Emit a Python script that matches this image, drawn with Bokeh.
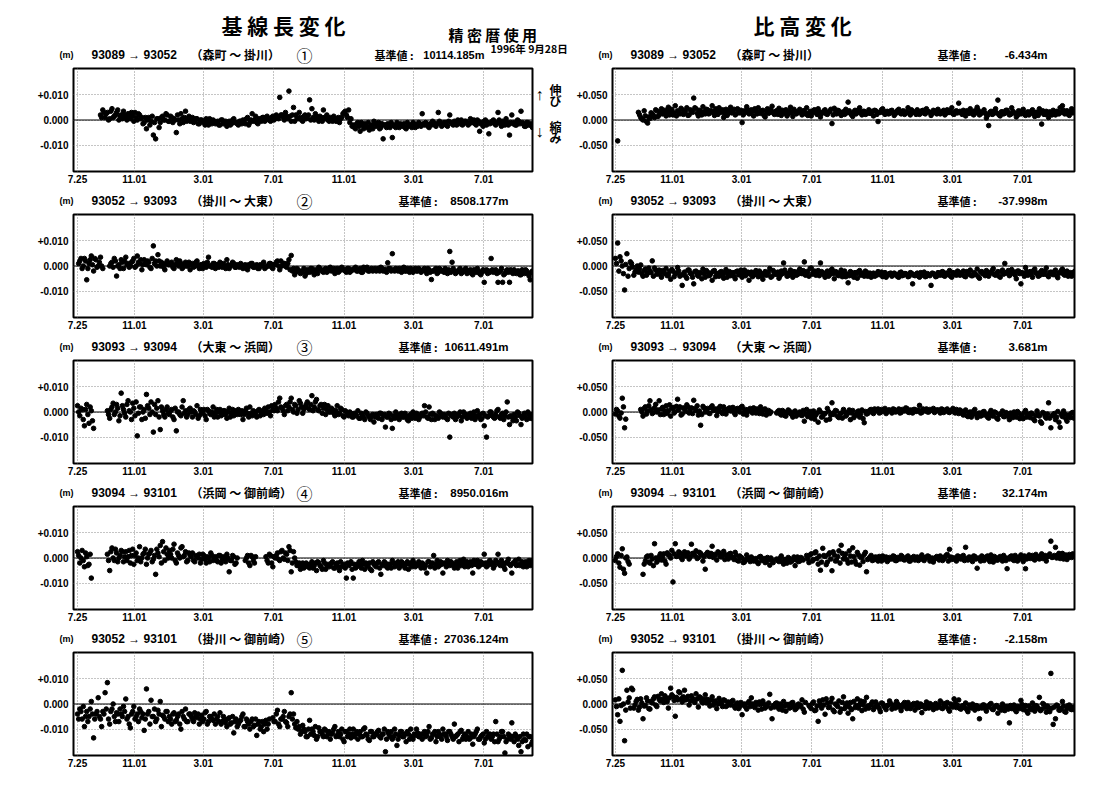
from bokeh.plotting import figure
from bokeh.layouts import column, row
from bokeh.models import Range1d, FixedTicker, Span
from bokeh.core.properties import value
from bokeh.embed import file_html
from bokeh.resources import INLINE

N = None

# observation days (days since 1994-07-25): two interleaved 4-day samplings
DAYS = [0, 4, 8, 12, 16, 20, 24, 28, 32, 36, 40, 44, 48, 52, 56, 60, 64, 68, 72, 76,
        80, 84, 88, 92, 96, 100, 104, 108, 112, 116, 120, 124, 128, 132, 136, 140, 144, 148, 152, 156,
        160, 164, 168, 172, 176, 180, 184, 188, 192, 196, 200, 204, 208, 212, 216, 220, 224, 228, 232, 236,
        240, 244, 248, 252, 256, 260, 264, 268, 272, 276, 280, 284, 288, 292, 296, 300, 304, 308, 312, 316,
        320, 324, 328, 332, 336, 340, 344, 348, 352, 356, 360, 364, 368, 372, 376, 380, 384, 388, 392, 396,
        400, 404, 408, 412, 416, 420, 424, 428, 432, 436, 440, 444, 448, 452, 456, 460, 464, 468, 472, 476,
        480, 484, 488, 492, 496, 500, 504, 508, 512, 516, 520, 524, 528, 532, 536, 540, 544, 548, 552, 556,
        560, 564, 568, 572, 576, 580, 584, 588, 592, 596, 600, 604, 608, 612, 616, 620, 624, 628, 632, 636,
        640, 644, 648, 652, 656, 660, 664, 668, 672, 676, 680, 684, 688, 692, 696, 700, 704, 708, 712, 716,
        720, 724, 728, 732, 736, 740, 744, 748, 752, 756, 760, 764, 768, 772, 776, 780, 784, 788, 792, 796]
DAYS_B = [2, 6, 10, 14, 18, 22, 26, 30, 34, 38, 42, 46, 50, 54, 58, 62, 66, 70, 74, 78,
          82, 86, 90, 94, 98, 102, 106, 110, 114, 118, 122, 126, 130, 134, 138, 142, 146, 150, 154, 158,
          162, 166, 170, 174, 178, 182, 186, 190, 194, 198, 202, 206, 210, 214, 218, 222, 226, 230, 234, 238,
          242, 246, 250, 254, 258, 262, 266, 270, 274, 278, 282, 286, 290, 294, 298, 302, 306, 310, 314, 318,
          322, 326, 330, 334, 338, 342, 346, 350, 354, 358, 362, 366, 370, 374, 378, 382, 386, 390, 394, 398,
          402, 406, 410, 414, 418, 422, 426, 430, 434, 438, 442, 446, 450, 454, 458, 462, 466, 470, 474, 478,
          482, 486, 490, 494, 498, 502, 506, 510, 514, 518, 522, 526, 530, 534, 538, 542, 546, 550, 554, 558,
          562, 566, 570, 574, 578, 582, 586, 590, 594, 598, 602, 606, 610, 614, 618, 622, 626, 630, 634, 638,
          642, 646, 650, 654, 658, 662, 666, 670, 674, 678, 682, 686, 690, 694, 698, 702, 706, 710, 714, 718,
          722, 726, 730, 734, 738, 742, 746, 750, 754, 758, 762, 766, 770, 774, 778, 782, 786, 790, 794, 798]

X_TICKS = [0, 99, 219, 341, 464, 585, 707]
X_LABELS = ["7.25", "11.01", "3.01", "7.01", "11.01", "3.01", "7.01"]

# baseline length change (mm)
LEN_1 = [N, N, N, N, N, N, N, N, N, N,
         2, 4, 1, 3, 0.5, 4.5, 1.5, 3, 0, 2,
         3.5, 1, 2.5, 0.5, 1.5, 3, 0, 2, 1, -1,
         -3.5, 1, -0.5, -6, -7.5, 0.5, -1, 1.5, 0, 2,
         -0.5, 1, 0.5, -5, 0, 2.5, -1, 3.5, 0.5, -0.5,
         1, -0.5, 0.5, -1.5, 0, -1, 0.5, -2, -1, 0,
         -1.5, -0.5, -2, 0, -1, -2.5, -0.5, -1.5, 0.5, -1,
         -2, -0.5, 0, -1.5, 1, -1, 2.5, 0, -1, 0.5,
         -0.5, 1, 0, 0.5, -0.5, 1.5, 0.5, 1, 9, 2,
         0, 1.5, 11.5, -0.5, 5, 2, 0.5, 1, -0.5, 2,
         1, 8, 4.5, 0, 1.5, -0.5, 1, 4, 0.5, 0,
         1, -0.5, 0.5, 0, -1, 1, 3, 2, 4, 0.5,
         -2, -3.5, -1, -4.5, -2, -1.5, -3, -4, -2, -0.5,
         -2.5, -1, -3, -7.5, -2, -1.5, -3, -7, -2.5, -1,
         -3, -2, -1.5, -3.5, -2.5, -2, -1, -3, -2.5, -1.5,
         2.5, -2, -1.5, -3, -2, -1, -2.5, 3, -1.5, -2,
         -1, -2.5, 2, -1.5, -0.5, -2, -1, 0, -1.5, -0.5,
         -2, 0.5, -1, -1.5, 0, -4.5, -1, -0.5, -2, -5.5,
         -1, 0, -2, 3, -1.5, -0.5, -2, -1, -6, 2,
         -1, -2, -0.5, 3.5, -1.5, -2.5, -1, -2, -3, -2]
LEN_1B = [N, N, N, N, N, N, N, N, N, N,
          1, 3, 2.5, 0, 3.5, 1, 2, 4, 1.5, 0.5,
          2, 0, 1.5, 3, -0.5, 1, 2.5, 0.5, -1.5, 1,
          0, -2, 1.5, -1, 0.5, -3, 1, 0, 2.5, -0.5,
          1.5, -1, 0, 2, -1.5, 0.5, 1, -0.5, 1.5, 0,
          -1, 0.5, -1.5, 0, -0.5, -2, -1, 0.5, -1.5, -0.5,
          -1, -2, 0, -1.5, -0.5, -1, -2, 0, -1, -1.5,
          -0.5, -1.5, -1, 0.5, -2, 0, -0.5, 1.5, -1.5, 0,
          1, -0.5, 1.5, 0, 1, 0, 2, 0.5, 2, 1,
          3, 0.5, 1.5, 2, -0.5, 1, 3, 0, 1.5, 0.5,
          2, 0, 1, 2.5, 0.5, 1.5, -0.5, 1, 2, -0.5,
          0.5, 1.5, -0.5, 1, 0.5, 2.5, 3.5, 1, -1, -2.5,
          -3, -1.5, -2.5, -1, -3.5, -2, -1, -2.5, -3.5, -1.5,
          -2, -3.5, -1.5, -2, -3, -2.5, -1, -2, -3, -2,
          -1.5, -2.5, -3, -1, -2, -3, -1.5, -2, -1, -2.5,
          -1.5, -1, -2.5, -1.5, -0.5, -2, -1.5, -0.5, -2.5, -1,
          -2, -0.5, -1, -2, -1.5, 0, -1.5, -2, -0.5, -1,
          -1.5, -1, 0, -2, -0.5, -1.5, -2.5, 0, -1, -1.5,
          -0.5, -1.5, -1, 0, -2.5, -1, 0.5, -2, -1, -1.5,
          -2, 0, -1.5, -1, -2.5, -1, -2, -1.5, -2.5, -3]

LEN_2 = [N, 2, -1, 3, -5.5, 1, 4, -2, 2.5, 0,
         3.5, -1, N, N, 0, 1.5, 3, -4, 0.5, 2.5,
         -1, 3.5, 1, 0, 2, -0.5, 4, 1, -1.5, 2.5,
         0.5, 1.5, -1, 8, 2, 4.5, 0, 1, -1.5, 2,
         0.5, 1.5, -1, 2.5, 0, 1, -0.5, 1.5, 0, -1.5,
         1, 0, 2, -1, 0.5, 1, -0.5, 3.5, 0, 1,
         -1, 0.5, 1.5, -0.5, 0, 2.5, -1, 0.5, 1, -0.5,
         0, 1, -1, 0.5, -1.5, 0, 1, -0.5, 0.5, -1,
         0, 1.5, -0.5, 0, 1, -1, 0.5, 2, -1.5, 0,
         1, -0.5, 2.5, 4.2, -1, -2.5, -1.5, -3, -2, -4,
         -1.5, -2.5, -1, -3.5, -2, -0.5, -1.5, -2.5, -1, -2,
         -0.5, -1.5, -3, -1, -2, -0.5, -1.5, -2.5, -1, -2,
         -1.5, -0.5, -2, -1, -2.5, -1.5, -0.5, -2, -1, -1.5,
         -2, -1, -0.5, -2, -1.5, 1.3, -1, 4.9, -2, -1.5,
         -1, -2.5, -0.5, -2, -1.5, -1, -2.5, -1, -2, -1.5,
         -2, -1, -3, -1.5, -5.4, -2, -1, -2.5, -1.5, -2,
         -1, -3, 5.8, 1.5, -2, -2.5, -1.5, -3, -2, -1,
         -2.5, -1.5, -3.5, -2, -1, -3, -2.5, -6.5, -1.5, -2,
         3, -2.5, -1.5, -6.5, -2, -6.5, -3, -1.5, -6.5, -2.5,
         -1.5, -3, -2, -3.5, -2.5, -1.5, -3, -5.5, -2, -2.5]
LEN_2B = [1, 3, 0, 2, -1, 2.5, 0.5, 3, -0.5, 1.5,
          0, N, N, N, 1, -0.5, 2, 0, -1, 1.5,
          2, 0.5, -0.5, 1.5, 3, 0, 1.5, 2.5, 0.5, 1,
          2, -0.5, 3, 1, 0, 2, 1.5, -0.5, 1, 0.5,
          1, -0.5, 0.5, 1, 2, -1, 0.5, 0, 1.5, 0.5,
          -0.5, 1.5, 0, 0.5, -1, 0.5, 1.5, 0, -0.5, 1,
          0.5, -0.5, 0, 1, -1, 0.5, 0, 1.5, -0.5, 0.5,
          -0.5, 0.5, 0, -1, 0.5, 1, -0.5, 0, -1, 0.5,
          0.5, -1, 0, 1, -0.5, 0.5, 1.5, 0, 2, 1,
          0, 1, -1.5, -2, -3.5, -1, -2, -2.5, -1, -3,
          -2, -1, -2.5, -1.5, -3, -1, -2, -1.5, -2.5, -1,
          -2, -1, -1.5, -2.5, -1, -1.5, -2, -1, -2.5, -1.5,
          -1, -2, -1.5, -2.5, -0.5, -1, -2, -1.5, -2, -1,
          -1.5, -2, -1, -1.5, -2.5, -1, -2, -1.5, -1, -2,
          -1.5, -1, -2, -1, -2.5, -2, -1.5, -2, -1, -2.5,
          -1.5, -2, -1, -2.5, -2, -1.5, -3, -1, -2, -2.5,
          -2, -1.5, -2.5, -1, -3, -2, -1, -2.5, -1.5, -3,
          -2, -3, -1.5, -2.5, -2, -3.5, -1.5, -2, -3, -2.5,
          -1.5, -2, -3, -2.5, -1, -3.5, -2, -2.5, -1.5, -3,
          -2.5, -2, -3.5, -1.5, -3, -2, -4, -2.5, -3, -2]

LEN_3 = [2.5, -1.5, 1, -5.5, 3, -4.5, 0.5, -6.5, N, N,
         N, N, N, 0.5, -2.5, 2, -1, 3, -3.5, 7.5,
         1, -2, 4.5, 0, 3.5, -1.5, -9.5, 2, -3, 1,
         7, 1.5, 4, -8, -1, 4.5, -7, 0.5, -2, 2,
         -1, 1, -3, -7.5, 0, -1.5, 4.5, 0.5, -1, 1.5,
         -2, 0, 2.5, -1.5, -0.5, 1, -3, 0.5, -1, 2,
         -0.5, -2, 1, -1, 0.5, -2.5, 1.5, -0.5, -1.5, 0,
         1, -1, -3, 0.5, -0.5, 2, -1.5, 0, -2, 1,
         -0.5, -1, 0.5, 2, -1.5, 1, 3, 0.5, 5.5, 1.5,
         -1, 3, 2, 5.5, 0, 2.5, 1, 3.5, -0.5, 2,
         4, 1, 6.5, 2, 5, 0.5, 3, 1.5, -1, 2.5,
         0, 1, -1.5, 2.5, -0.5, 1, -2, 0, -1.5, -0.5,
         -2, -1, 0.5, -2.5, -1, -3, -0.5, -2, -1.5, -4,
         -1, -2.5, -0.5, -1.5, -6, -2, -1, -6.5, -2.5, -1,
         -3, -0.5, -2, -1.5, -3.5, -1, 0, -2.5, -1.5, -2,
         -0.5, 2.5, -2, 2, -3, -1, -1.5, -2.5, -0.5, -2,
         -1.5, -3, -10, -1, -0.5, -2, -1.5, -3.5, 0, -1,
         -2, -0.5, -1.5, -3, 0.5, -1, -2.5, -5.5, -10, -1.5,
         0, -2, -1, 1, -2.5, -0.5, -1.5, 4, -5, -2,
         -1, -3.5, -0.5, -5, -1.5, -2, 0, -2.5, -1, -2]
LEN_3B = [0, 1.5, -3, 1, -1, 2, -3.5, N, N, N,
          N, N, N, -1, 1, 3.5, 0, 1.5, -1.5, 2.5,
          -0.5, 3, 0.5, -3, 1.5, 4, -0.5, 2, 0, -2.5,
          2.5, -1, 0, 3, 1.5, -2, 2, -1, 1, -0.5,
          0.5, -2, 1.5, 0, -1, 2, -0.5, -2, 1, 0,
          0.5, -1, -2.5, 1, 0, -1.5, 1, -0.5, 0, -2,
          1, 0, -1.5, 0.5, -1, 0, -2, 1, 0.5, -1,
          -0.5, 0.5, -1, 1.5, -2, -0.5, 0.5, -1, 0.5, -1.5,
          0.5, 1.5, -0.5, 0, 2.5, 0.5, 1.5, 4, 2, 0.5,
          2.5, 0.5, 4, 1, 3, -0.5, 4.5, 2, 1, 3,
          1.5, 3, 0.5, 4, 1, 2.5, -0.5, 3, 1, 0,
          1.5, -0.5, 0.5, -1, 1.5, -1.5, 0.5, -1, 0, -2,
          -0.5, -1.5, -2.5, -0.5, -2, 0, -1.5, -3, -1, -2,
          -2, -0.5, -3, -1, -2, -0.5, -3, -1.5, 0, -2.5,
          -1, -2, -0.5, -3, -1.5, -2.5, -1, -0.5, -3, -1,
          -1.5, 0, -2.5, -1, -0.5, -3, -2, 0, -1.5, -1,
          -2.5, -0.5, -1.5, -2, -3, -1, 0, -2, -1, -2.5,
          -1, -2.5, 0, -1.5, -2, -3, -0.5, -1.5, -2, 0,
          -1.5, -2.5, 0.5, -2, -1, -3, 0, -2, -1.5, -3.5,
          -2, 0, -1.5, -2.5, -0.5, -3, -1, -2, -3, -1.5]

LEN_4 = [2.5, -2, 3, -3.5, 0.5, -2.5, -8, N, N, N,
         N, N, N, 1.5, -5, 4, -1, 2, 0, 3,
         -1.5, 2.5, 0.5, -2, 3.5, 1, -1, 4.5, 0, 2,
         -2.5, 1.5, 3, -0.5, -6.5, 2, 5, 6.5, -1, 1.5,
         3, 0, 5.5, -2, 1, 4, 0.5, 2.5, -1, 1,
         2, -1.5, 0.5, 1.5, -0.5, 1, -2, 0, 2, -1,
         0.5, -1.5, 1, -0.5, 0, 1.5, -5.5, -1, 0.5, -2,
         N, N, N, -1, 1, -3, 0.5, -2, N, N,
         N, N, 0.5, -2, 1, -3.5, 0, 2, -1, 3,
         -0.5, 1.5, 4.5, -5.5, 2.5, -1.5, -3, -4.5, -2, -3.5,
         -2.5, -4, -1.5, -3, -5, -2, -3.5, -1, -4.5, -2.5,
         -3, -1.5, -4, -2, -5, -3.5, -2.5, -8, -3, -1.5,
         -8, -4, -2.5, -3, -1, -4.5, -3, -2, -5, -2.5,
         -3.5, -1.5, -6.5, -3, -2, -4, -2.5, -1, -3.5, -2,
         -4, -1.5, -3, -2.5, -4.5, -2, -1, -3.5, -2.5, -3,
         -2, -4, -6, -1.5, -3, 1, -2.5, -3.5, -1.5, -6,
         -2.5, -1, -3, -2, -4, -1.5, -2.5, -3, -0.5, -2,
         -3.5, -1.5, -6, -2.5, -1, -3, -2, 1.5, -3.5, -1.5,
         -2.5, -4, -1, 1.5, -3, -2, -4.5, -1.5, -2.5, -6,
         -2, -3, -0.5, -2.5, -3.5, -1.5, -2, -3, -1, -2.5]
LEN_4B = [1, 0, -1, 2, -3, 1.5, N, N, N, N,
          N, N, N, -1, 2.5, 0, 3.5, -1.5, 1, 2.5,
          0.5, -1, 3, 1, -2.5, 2, 0, -1.5, 1.5, 3.5,
          0, 2, -1.5, 1, 3.5, 0.5, -2, 2.5, 4, 0,
          1.5, 3.5, -1, 2, 0, 4.5, 1, -1.5, 2, 0.5,
          -1, 1, 0, -2, 1.5, -0.5, 0.5, -1.5, 1, 0,
          -1, 1, -2, 0.5, -1.5, 0, -1, 1, -2.5, 0,
          N, N, N, 0, -2, 1, -1, 0.5, N, N,
          N, N, -1, 1.5, -2, 0.5, 1, -0.5, 2.5, 0,
          2, -1, 3, -2, 0, -3, -2, -3.5, -4, -2,
          -3.5, -2.5, -4, -2, -1.5, -3, -4.5, -2, -3, -3.5,
          -2, -4, -2.5, -3.5, -1.5, -3, -4, -2, -2.5, -4.5,
          -2.5, -3.5, -1.5, -4, -2.5, -2, -3.5, -4.5, -1.5, -3,
          -2, -4, -2.5, -1.5, -3.5, -2.5, -4, -2, -3, -1.5,
          -3, -2, -4, -1.5, -2.5, -3.5, -2, -3, -1.5, -4,
          -2.5, -3, -1.5, -3.5, -2, -4, -1, -3, -2.5, -2,
          -3.5, -2, -1.5, -3, -2.5, -4, -1, -2, -3.5, -1.5,
          -2, -3, -1, -2.5, -3.5, -1.5, -2.5, -2, -3, -1,
          -2, -3, -1.5, -2.5, -1, -3.5, -2, -0.5, -3, -2,
          -1, -2.5, -3, -1.5, -2, -3.5, -1, -2.5, -2, -3]

LEN_5 = [-4, -2, -6, -9, -3, -5, 1, -13.5, -4, 2.5,
         -6, -3, 4.5, 8.5, -8, -2, -5, -3.5, -7, -4,
         -1, 2, -5, -9.5, -3, -6, -4, -2, -5.5, -10.5,
         6, -3, 1.5, -5, -7, -2.5, 1, -4.5, -6, -3,
         -5, -8, -3.5, -6.5, -4, -10, -5, -2, -7, -4,
         -6, -3.5, -5.5, -8, -4.5, -6, -3, -7, -5, -6.5,
         -8, -5, -3.5, -7, -6, -9, -5.5, -7.5, -11.5, -6,
         -8, -6.5, -4, -9, -7, -10, -6, -8.5, -12.5, -7,
         -9, -11, -6.5, -8, N, -5.5, -7, -2.5, -9, -6,
         -3, -7.5, -5, 4.5, -4, -9.5, -10, -12, -8.5, -11,
         -13, -6.5, -10, -12.5, -14, -9.5, -11, -13, -10.5, -12,
         -14, -11.5, -9, -12.5, -13, -10, -15, -11, -12, -13.5,
         -10, -12, -14, -11, -13, -9.5, -12.5, -14.5, -11, -13,
         -12, -10.5, -13.5, -12, -19, -11, -13, -14, -10, -16.5,
         -12.5, -11, -13, -15, -12, -10, -14, -12.5, -11.5, -13,
         -14, -11, -12.5, -9, -13.5, -12, -15, -11, -13, -10,
         -12, -14.5, -11, -13, -8, -12.5, -15, -10.5, -13, -14,
         -11, -13.5, -16, -12, -10, -14, -12.5, -15.5, -11, -13,
         -14, -12, -7, -15, -13, -11, -19.5, -14, -12.5, -7.5,
         -15, -13, -16.5, -19, -12, -14.5, -17, -13, -15, -14]
LEN_5B = [-6, -3, -1, -5, -7, -2, -4, -6, -3, -5,
          -9, -4, -2, -6, -3, 0, -7, -4, -2, -5,
          -3, -6, -8, -4, -1, -5, -7, -3, -4, -6,
          -4, -8, -5, -2, -6, -4, -9, -5, -3, -7,
          -6, -4, -7, -5, -8, -3, -6, -7, -4, -5,
          -7, -5, -4, -6, -7, -3.5, -8, -5, -6, -4,
          -6, -7, -8, -5, -7.5, -6, -8, -5, -7, -9,
          -7, -5, -9, -6, -8, -7, -9, -6, -8, -10,
          -7, -8, -10, -6, N, -7, -4, -8, -6, -5,
          -7, -9, -4, -6, -8, -7, -9, -11, -10, -13,
          -10, -12, -11, -9, -13, -11, -12, -10, -13, -11,
          -12, -10, -13, -11, -12, -14, -11, -13, -10, -12,
          -13, -11, -12, -13, -10, -12, -14, -11, -13, -12,
          -11, -13, -12, -10, -14, -12, -11, -13, -12, -14,
          -11, -13, -12, -11, -14, -13, -12, -10, -13, -12,
          -12, -13, -11, -14, -12, -11, -13, -12, -14, -12,
          -13, -11, -12, -14, -13, -12, -11, -14, -12, -13,
          -14, -12, -13, -11, -14, -13, -12, -14, -13, -12,
          -13, -15, -12, -14, -11, -13, -15, -12, -14, -13,
          -12, -14, -13, -15, -14, -12, -13, -16, -14, -15]

# height difference change (mm)
HGT_1 = [N, -41, N, N, N, N, N, N, N, N,
         15, 5, 0, 8, -6, 3, 12, 5, 18, 10,
         22, 14, 8, 25, 16, 10, 28, 18, 12, 20,
         15, 24, 10, 18, 43, 22, 8, 17, 26, 12,
         20, 14, 28, 9, 18, 24, 15, 5, 21, 13,
         25, 16, 10, 22, 14, -5, 18, 26, 12, 20,
         8, 17, 24, 13, 19, 6, 22, 15, 27, 11,
         18, 23, 9, 16, 20, 12, 25, 7, 17, 14,
         21, 10, 18, 24, 13, 8, 19, 15, 22, 6,
         14, 20, 11, 17, -7, 23, 12, 18, 9, 16,
         21, 35, 13, 7, 19, 15, 24, 10, 17, 12,
         20, 14, 8, 18, -3, 15, 22, 11, 17, 13,
         19, 9, 16, 21, 12, 18, 14, 24, 10, 17,
         15, 20, 11, 18, 13, 22, 16, 9, 19, 14,
         21, 12, 17, 10, 20, 15, 24, 11, 18, 33,
         14, 19, 8, 16, 22, 12, 18, 25, 10, 15,
         20, 4, -11, 17, 12, 22, 39, 8, 16, 13,
         19, 10, 24, 14, 6, 18, 12, 21, 9, 16,
         13, 20, 7, 15, 22, -8, 11, 17, 5, 14,
         19, 10, 16, 24, 28, 12, 18, 9, 22, 15]
HGT_1B = [N, N, N, N, N, N, N, N, N, N,
          10, 2, 18, -3, 6, 14, 9, 20, 7, 15,
          12, 19, 17, 10, 21, 14, 8, 16, 23, 11,
          18, 9, 20, 15, 24, 13, 19, 10, 16, 21,
          12, 18, 15, 22, 11, 17, 20, 13, 9, 18,
          14, 21, 12, 16, 19, 10, 15, 20, 13, 17,
          22, 12, 15, 18, 9, 16, 13, 20, 14, 17,
          11, 15, 19, 13, 8, 17, 14, 21, 12, 16,
          15, 18, 12, 9, 17, 14, 20, 11, 16, 13,
          18, 12, 15, 21, 10, 16, 19, 13, 15, 11,
          14, 18, 10, 16, 12, 20, 14, 17, 11, 15,
          13, 17, 19, 11, 15, 20, 14, 16, 12, 18,
          15, 12, 19, 14, 17, 11, 16, 13, 20, 15,
          11, 16, 14, 19, 12, 17, 15, 13, 18, 12,
          16, 14, 19, 13, 15, 18, 12, 16, 14, 17,
          11, 15, 18, 13, 16, 10, 14, 19, 12, 16,
          13, 9, 15, 11, 18, 14, 10, 16, 12, 19,
          14, 11, 17, 13, 9, 15, 18, 12, 14, 10,
          17, 12, 15, 9, 14, 18, 11, 13, 16, 10,
          14, 17, 12, 15, 19, 13, 11, 16, 14, 18]

HGT_2 = [15, 45, 18, 0, -47, 24, -5, 5, -18, -8,
         -12, 2, -20, -6, -14, -10, 10, -4, -16, -8,
         -22, -12, -5, -18, -26, -10, -15, -3, -20, -38,
         -12, -24, -8, -16, -35, -10, -20, -14, -6, -22,
         -12, -18, -28, -9, -15, -20, -11, -24, -7, -16,
         -19, -13, -25, -10, -17, -22, -8, -15, -28, -12,
         -18, -9, -21, -14, -26, -11, -17, -5, -20, -13,
         -16, -24, -10, 6, -14, -19, -8, -22, -12, -17,
         -6, -15, 8, -11, -20, -4, -13, -18, -9, 6,
         -14, -22, -10, -17, -6, -25, -12, -19, -8, -15,
         -21, -33, -11, -18, -13, -24, -9, -16, -20, -12,
         -17, -22, -14, -19, -11, -16, -21, -13, -18, -15,
         -20, -14, -17, -22, -12, -18, -15, -21, -13, -35,
         -19, -14, -22, -16, -12, -20, -17, -38, -15, -21,
         -13, -18, -11, -20, -16, -9, -22, -14, -18, -12,
         -17, -10, -21, -13, -8, -19, -15, -6, -24, -11,
         -16, -9, -20, -13, -5, -18, -11, -22, -8, 5,
         -14, -19, -7, -12, -25, -10, -35, -15, -3, -18,
         -11, -22, -6, -14, -19, -9, -16, -4, -21, -12,
         -17, -8, -23, -13, -6, -18, -10, -15, -20, -12]
HGT_2B = [5, -10, 10, -15, 3, -20, 8, -2, -12, 0,
          -6, -15, -9, -18, -4, -13, -20, -8, -12, -17,
          -9, -15, -19, -11, -7, -21, -14, -10, -18, -16,
          -20, -8, -14, -22, -11, -17, -13, -25, -15, -9,
          -19, -14, -10, -21, -16, -12, -18, -13, -22, -11,
          -15, -20, -11, -17, -8, -14, -19, -12, -16, -21,
          -13, -17, -10, -20, -15, -18, -12, -22, -9, -16,
          -12, -19, -15, -8, -20, -13, -17, -11, -18, -10,
          -14, -9, -18, -12, -5, -16, -10, -14, -19, -11,
          -17, -13, -20, -9, -15, -11, -18, -14, -21, -10,
          -16, -19, -13, -22, -15, -11, -18, -14, -10, -20,
          -14, -18, -20, -15, -17, -12, -19, -22, -16, -14,
          -18, -16, -21, -13, -19, -15, -17, -20, -14, -18,
          -16, -20, -13, -18, -21, -15, -19, -14, -17, -20,
          -15, -12, -19, -14, -17, -20, -13, -16, -10, -18,
          -14, -20, -11, -16, -19, -13, -17, -21, -12, -15,
          -19, -12, -15, -9, -17, -14, -20, -11, -16, -13,
          -9, -16, -12, -18, -10, -15, -13, -20, -11, -14,
          -17, -9, -14, -20, -12, -16, -10, -18, -13, -15,
          -11, -19, -14, -9, -16, -12, -20, -13, -17, -10]

HGT_3 = [-4, 2, -12, 27, -31, N, N, N, N, N,
         N, 5, -8, 10, 2, 22, -3, 8, 0, 22,
         6, -5, 12, 3, -8, 9, 1, 25, 10, -4,
         6, 14, -2, 8, 23, 3, -6, -26, 11, 0,
         7, -3, 12, 4, -7, 8, 1, 10, -4, 6,
         2, 9, -5, 7, 0, 11, 3, -6, 5, 1,
         8, -2, 4, 10, -4, 6, 1, -3, N, N,
         -2, 3, -6, 1, -8, 4, -3, -10, 2, -5,
         0, -7, -18, 5, -3, -12, 2, -6, -20, 0,
         -9, -3, 7, -14, 18, -5, 2, -11, -2, 5,
         -8, -1, -15, 3, -6, 0, -10, 4, -21, -4,
         1, 5, -3, 2, 6, -1, 3, 7, 0, 4,
         -2, 5, 1, 6, -1, 3, 8, 0, 4, -2,
         5, 2, 13, -1, 4, 6, 0, 3, 7, 1,
         4, -2, 5, 2, 6, -1, 3, 0, 5, -3,
         2, -6, 4, -9, 0, -4, 5, -11, -2, -7,
         1, -5, -12, 3, -8, -1, -14, -4, 2, -9,
         -3, -15, -6, 0, -10, -2, -7, -13, 3, -5,
         -11, -4, -17, 2, -8, -22, -3, -12, 18, -31,
         -6, -15, 1, -30, -9, -4, -18, -7, -2, -12]
HGT_3B = [5, -8, -2, 10, -14, N, N, N, N, N,
          N, 0, 7, -4, 12, 5, -1, 15, 4, -5,
          9, 2, -3, 14, 7, -2, 11, 4, -6, 8,
          1, 10, 5, -3, 7, 12, 2, -5, 8, 4,
          -2, 9, 3, 6, 0, 11, -3, 5, 2, 8,
          4, -1, 6, 2, 9, -4, 5, 1, 7, -2,
          3, 6, -3, 2, 5, -6, 3, 0, N, N,
          1, -4, 3, -7, -1, 2, -5, 0, -8, -3,
          -6, 3, -4, -9, 1, -5, -14, -2, 4, -10,
          -3, -16, 1, -6, -2, 3, -9, -4, -12, 0,
          -5, 4, -2, -11, -6, 2, -4, -13, 1, -3,
          4, -1, 6, 3, -2, 5, 1, -3, 4, 2,
          6, 0, 3, -2, 5, 2, 7, -1, 3, 5,
          1, 4, -2, 6, 2, 0, 5, 3, -1, 4,
          2, 6, -1, 4, 0, 3, 7, -2, 2, 4,
          -3, 1, -7, -1, -10, 2, -5, -3, -8, 0,
          -6, -10, -2, -7, 0, -12, -5, -3, -9, -1,
          -8, -2, -11, -5, 1, -13, -6, -1, -10, -4,
          -2, -14, -7, -5, -19, -1, -9, -4, -12, -7,
          -3, -10, -20, -5, 2, -13, -6, -11, -1, -8]

HGT_4 = [-5, 8, -18, 18, -30, 2, -12, N, N, N,
         N, N, -32, -6, 4, -10, -2, 28, -8, 3,
         -4, 8, -12, 6, 0, -47, 28, 4, 10, -3,
         12, 5, -2, 27, 8, 14, 1, 9, -6, -22,
         11, 3, 23, 7, -4, 10, 2, 13, 6, -2,
         9, 1, 11, -5, 4, 0, -8, 6, -3, 2,
         -6, -1, -11, 3, -4, -9, 1, -14, -5, N,
         -2, -7, 4, -12, -3, 1, -8, -4, -15, 2,
         -6, -1, N, 5, -9, 8, -3, 12, -12, -24,
         19, 3, -8, 10, -25, 6, -5, 14, 25, -2,
         8, -10, 4, 20, -6, 11, -14, 2, 7, -27,
         -1, 5, -4, 2, -6, 0, 4, -3, -7, 1,
         -2, 3, -5, 0, 5, -3, -1, 4, -6, 1,
         -4, 2, -2, 6, -5, 0, 3, -3, -8, 1,
         -1, 4, -5, 2, 7, 17, -3, 0, -6, 3,
         -2, 5, 21, -4, 1, -7, 3, -20, -1, 4,
         -5, 2, -3, 6, -8, 0, -4, 3, -6, 1,
         -21, -2, 4, -5, 1, -3, 6, -7, -21, 2,
         -1, 5, -4, 3, -2, 8, 0, -6, 4, 33,
         2, 21, 6, -1, 9, 3, -3, 7, 1, 4]
HGT_4B = [3, -10, 5, -22, 0, -7, N, N, N, N,
          N, N, -12, 2, -8, 5, -15, 0, -4, 8,
          2, -6, 10, 5, 15, 8, 3, 12, 1, 7,
          4, 10, 2, 9, 5, -1, 11, 6, 3, 8,
          5, 9, 1, 6, 12, 3, 7, -3, 4, 8,
          2, -3, 5, -6, 1, -9, -4, 0, -7, -1,
          -3, -8, 2, -5, -1, -7, -3, 0, -9, N,
          -5, 0, -8, -3, -10, -1, -6, 2, -4, -7,
          1, -4, N, -2, 6, -6, 10, -1, 4, -8,
          5, -13, 7, -2, 12, -6, 3, -10, 9, 1,
          -4, 14, -8, 3, -12, 6, 1, -7, 11, -3,
          2, -5, 1, -3, 3, -6, 0, 2, -4, -1,
          4, -5, 1, -2, 3, -4, 2, -6, 0, 3,
          -1, -5, 2, -3, 1, 4, -6, 0, -2, 3,
          -4, 1, -2, 5, -6, 2, 0, -3, 4, -1,
          3, -5, -1, 2, -4, 4, -2, 0, -6, 2,
          -2, 4, -7, 0, 3, -4, 1, -2, 5, -5,
          0, 3, -3, 5, -6, 2, -1, 4, -2, 6,
          3, -2, 7, 0, 4, -1, 5, 2, 8, 1,
          5, 0, 9, 3, -2, 6, 1, 4, 8, 2]

HGT_5 = [8, -21, -34, 66, -72, 27, 12, 31, -8, 5,
         -12, 10, -29, -3, 6, -10, 2, 14, -5, 9,
         20, 3, 12, -8, 31, 15, -24, 8, 22, 4,
         27, 10, -2, 16, 6, 20, -6, 12, 2, 18,
         9, -4, 14, 5, -9, 11, 0, 8, -5, 4,
         -2, 7, -8, 2, -5, -21, 0, -10, 5, 12,
         -4, 3, -12, -1, 6, -8, -3, 19, -29, -6,
         2, -10, -4, 5, -14, -1, -7, 3, -11, -2,
         -5, 8, -16, N, -3, -9, 4, -12, -34, -1,
         8, -20, 2, -6, 11, -15, -2, 6, -10, 14,
         -4, -18, 3, -29, -7, 10, -1, -13, 5, 13,
         -8, 0, -11, 4, -5, -15, 1, -7, -3, 6,
         -10, -2, 5, -6, -13, 0, -4, 3, -9, -1,
         -12, 2, -6, -17, -3, 4, -8, -1, -11, 1,
         -5, 6, -9, -2, 3, -14, -4, 10, -7, 8,
         -10, -3, 2, -15, -6, 0, -12, -4, -29, -8,
         -2, -14, -6, 1, -11, -4, -18, -7, 0, -13,
         -5, -37, -9, -2, -15, -6, 7, -11, -3, -18,
         -8, 2, -14, -5, 13, -10, -1, -16, -7, 60,
         -40, -29, -4, -12, 5, -15, -8, -2, -11, -6]
HGT_5B = [-5, 10, -3, 0, -12, 4, -8, 28, -2, 9,
          -6, 2, -4, 12, -9, 5, 10, -2, 15, 6,
          9, 16, 5, 12, 18, 7, 13, 24, 10, 14,
          8, 15, 6, 11, 3, 10, 14, 5, 9, 2,
          3, 8, -2, 6, 0, 4, -5, 7, -3, 1,
          5, -4, 0, -9, 3, -2, -6, 2, -5, 0,
          -7, -1, 4, -10, 0, -5, 2, -8, -3, 1,
          -6, 0, -12, -4, -1, -8, 2, -5, -9, 0,
          -3, -10, 3, N, -6, 1, -13, -4, 6, -8,
          -2, 10, -7, 4, -12, 0, -5, -16, 3, -9,
          2, -6, -11, 5, -3, -8, 6, -2, -10, -4,
          -3, 4, -6, -1, -9, 2, -4, -11, -2, 1,
          -5, -8, 0, -3, -6, 3, -9, -2, -5, 1,
          -4, -7, 0, -5, -9, -2, 1, -6, -3, -8,
          -2, -8, 1, -5, -10, 0, -6, 2, -3, -9,
          -4, -7, -11, -2, -8, -5, -3, -9, -6, -2,
          -9, -5, -1, -10, -6, -3, -8, -12, -4, -7,
          -10, -3, -7, -12, -5, -9, -1, -6, -14, -4,
          -11, -6, -3, -9, -13, 1, -7, -4, -15, -8,
          -6, -2, -12, -9, -4, -16, -3, -10, -7, -12]

LEN_SERIES = [(LEN_1, LEN_1B), (LEN_2, LEN_2B), (LEN_3, LEN_3B), (LEN_4, LEN_4B), (LEN_5, LEN_5B)]
HGT_SERIES = [(HGT_1, HGT_1B), (HGT_2, HGT_2B), (HGT_3, HGT_3B), (HGT_4, HGT_4B), (HGT_5, HGT_5B)]

ROUTES = ["93089 → 93052", "93052 → 93093", "93093 → 93094", "93094 → 93101", "93052 → 93101"]
PLACES = ["（森町 ～ 掛川）", "（掛川 ～ 大東）", "（大東 ～ 浜岡）", "（浜岡 ～ 御前崎）", "（掛川 ～ 御前崎）"]
NUMS = ["①", "②", "③", "④", "⑤"]
BASE_LEN = ["10114.185m", "8508.177m", "10611.491m", "8950.016m", "27036.124m"]
BASE_HGT = ["-6.434m", "-37.998m", "3.681m", "32.174m", "-2.158m"]

LEN_TICKS = [-0.01, 0.0, 0.01]
LEN_TICK_LABELS = ["-0.010", "0.000", "+0.010"]
HGT_TICKS = [-0.05, 0.0, 0.05]
HGT_TICK_LABELS = ["-0.050", "0.000", "+0.050"]

NUM_FONT = "Liberation Sans"
JP_FONT = "Noto Sans CJK JP"
FRAME_H = 103
TOP = 2
BOTTOM = 16
TOTAL_W = 1089


def canvas(w, h):
    p = figure(width=w, height=h, x_range=Range1d(0, w), y_range=Range1d(h, 0),
               output_backend="svg", toolbar_location=None, title=None, min_border=0,
               x_axis_location=None, y_axis_location=None, outline_line_color=None,
               background_fill_color="white", border_fill_color="white")
    p.grid.visible = False
    return p


def txt(p, x, y, s, size, font=JP_FONT, style="bold", align="left"):
    p.text(x=[x], y=[y], text=[s], text_font=value(font), text_font_size=value(f"{size}px"),
           text_font_style=style, text_align=align, text_baseline="middle", text_color="black")


def panel(series, ylim, ticks, tick_labels, width, b_left, b_right, xr):
    p = figure(width=width, height=TOP + FRAME_H + BOTTOM, title=None,
               x_range=Range1d(*xr), y_range=Range1d(-ylim, ylim),
               output_backend="svg", toolbar_location=None,
               min_border_left=b_left, min_border_right=b_right,
               min_border_top=TOP, min_border_bottom=BOTTOM,
               background_fill_color="white", border_fill_color="white")
    p.xaxis.ticker = FixedTicker(ticks=X_TICKS)
    p.xaxis.major_label_overrides = {t: s for t, s in zip(X_TICKS, X_LABELS)}
    p.yaxis.ticker = FixedTicker(ticks=ticks)
    p.yaxis.major_label_overrides = {t: s for t, s in zip(ticks, tick_labels)}
    for ax in (p.xaxis[0], p.yaxis[0]):
        ax.axis_line_color = None
        ax.major_tick_line_color = None
        ax.minor_tick_line_color = None
        ax.major_tick_out = 0
        ax.major_tick_in = 0
        ax.minor_tick_out = 0
        ax.major_label_text_font = NUM_FONT
        ax.major_label_text_font_style = "bold"
        ax.major_label_text_font_size = "10px"
        ax.major_label_text_color = "black"
    p.xaxis.major_label_standoff = 3
    p.yaxis.major_label_standoff = 5
    for g in (p.xgrid[0], p.ygrid[0]):
        g.grid_line_color = "#8a8a8a"
        g.grid_line_dash = "1 2"
        g.grid_line_width = 1
    p.outline_line_color = "black"
    p.outline_line_width = 2
    p.outline_line_alpha = 1
    p.add_layout(Span(location=0, dimension="width", line_color="black", line_width=1.2))
    for days, vals in ((DAYS, series[0]), (DAYS_B, series[1])):
        xs = [d for d, v in zip(days, vals) if v is not None]
        ys = [v / 1000.0 for d, v in zip(days, vals) if v is not None]
        p.scatter(xs, ys, size=4.6, color="black", line_color="black")
    return p


def header(i):
    h = 66 if i == 0 else 25
    y = 54 if i == 0 else 13
    c = canvas(TOTAL_W, h)
    kx, bx = (374, 484) if i == 0 else (398, 508)
    # left (baseline length)
    txt(c, 59, y, "(m)", 9, NUM_FONT)
    txt(c, 91, y, ROUTES[i], 12, NUM_FONT)
    txt(c, 190, y, PLACES[i], 12)
    txt(c, 304, y, NUMS[i], 16, JP_FONT, "normal", "center")
    txt(c, kx, y, "基準値 :", 11)
    txt(c, bx, y, BASE_LEN[i], 11 if i == 0 else 11.5, NUM_FONT, "bold", "right")
    # right (height difference)
    txt(c, 598, y, "(m)", 9, NUM_FONT)
    txt(c, 630, y, ROUTES[i], 12, NUM_FONT)
    txt(c, 729, y, PLACES[i], 12)
    txt(c, 937, y, "基準値 :", 11)
    txt(c, 1047, y, BASE_HGT[i], 11.5, NUM_FONT, "bold", "right")
    if i == 0:
        txt(c, 221, 24, "基 線 長 変 化", 21)
        txt(c, 448, 34, "精 密 暦 使 用", 15)
        txt(c, 490, 48, "1996年 9月28日", 10.5)
        txt(c, 753, 24, "比 高 変 化", 21)
    return c


items = []
for i in range(5):
    items.append(header(i))
    pr = panel(HGT_SERIES[i], 0.101, HGT_TICKS, HGT_TICK_LABELS, 519, 42, 15, (-5, 797))
    if i == 0:
        pl = panel(LEN_SERIES[i], 0.0205, LEN_TICKS, LEN_TICK_LABELS, 534, 73, 2, (-7, 792))
        mid = canvas(36, TOP + FRAME_H + BOTTOM)
        txt(mid, 5, 31, "↑", 16, NUM_FONT, "bold", "center")
        txt(mid, 5, 74, "↓", 16, NUM_FONT, "bold", "center")
        txt(mid, 21, 25, "伸", 12, JP_FONT, "bold", "center")
        txt(mid, 21, 38, "び", 12, JP_FONT, "bold", "center")
        txt(mid, 21, 68, "縮", 12, JP_FONT, "bold", "center")
        txt(mid, 21, 81, "み", 12, JP_FONT, "bold", "center")
        items.append(row(pl, mid, pr))
    else:
        pl = panel(LEN_SERIES[i], 0.0205, LEN_TICKS, LEN_TICK_LABELS, 570, 73, 38, (-7, 792))
        items.append(row(pl, pr))

layout = column(*items)
open("out.html", "w").write(file_html(layout, INLINE))
